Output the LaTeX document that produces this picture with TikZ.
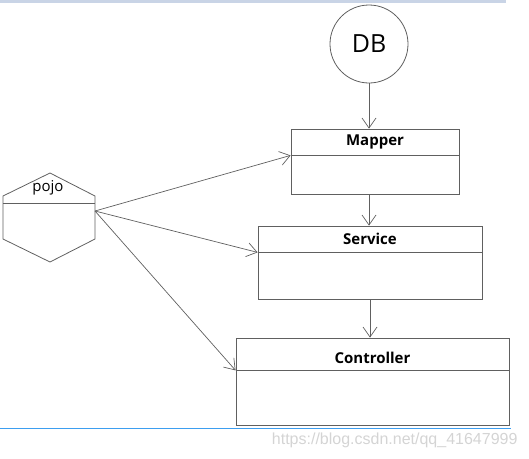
\documentclass[tikz,border=0pt]{standalone}
\usepackage{fontspec}
\setmainfont{Open Sans}
\newfontfamily\markfont{Liberation Sans}
\usepackage{tikz}
\usetikzlibrary{positioning,arrows.meta}
\definecolor{edge}{HTML}{606060}
\definecolor{band}{HTML}{c9d4e6}
\definecolor{rule}{HTML}{3d9ef0}
\definecolor{mark}{HTML}{d4d4d4}

\begin{document}
\begin{tikzpicture}[x=1pt, y=-1pt,
  head/.style={draw=edge, line width=0.8pt, fill=white, inner sep=0pt, font=\fontsize{15}{18}\selectfont\bfseries},
  body/.style={draw=edge, line width=0.8pt, fill=white, inner sep=0pt},
  arrow/.style={-{Straight Barb[length=10pt, width=14pt]}, line width=0.7pt, color=edge},
]
\useasboundingbox (0,0) rectangle (529,458);
\fill[band] (0,0) rectangle (506,3);

\node[draw=edge, line width=0.8pt, circle, minimum size=78pt, inner sep=0pt, font=\fontsize{25}{30}\selectfont] (db) at (369,44) {DB};

\node[head, minimum width=168pt, minimum height=26pt] (mapper) at (375,142) {Mapper};
\node[body, minimum width=168pt, minimum height=39pt, below=0pt of mapper] (mapperbody) {};
\node[head, minimum width=224pt, minimum height=26pt] (service) at (370,239) {Service};
\node[body, minimum width=224pt, minimum height=47pt, below=0pt of service] (servicebody) {};
\node[head, minimum width=273pt, minimum height=32pt, text height=21pt, text depth=2pt] (controller) at (372.5,354) {Controller};
\node[body, minimum width=273pt, minimum height=55pt, below=0pt of controller] (controllerbody) {};

% pojo hexagon
\draw[edge, line width=0.8pt] (50,173) -- (95,196) -- (95,239) -- (50,262) -- (3,239) -- (3,196) -- cycle;
\draw[edge, line width=0.8pt] (3,203) -- (95,203);
\node[font=\fontsize{15}{18}\selectfont] (pojo) at (48,188) {pojo};
\coordinate (pojoout) at (95,211);

\draw[arrow] (db.south) -- (db.south |- mapper.north);
\draw[arrow] (mapperbody.south -| db.south) -- (service.north -| db.south);
\draw[arrow] (servicebody.south) -- (servicebody.south |- controller.north);
\draw[arrow] (pojoout) -- (mapper.south west);
\draw[arrow] (pojoout) -- (service.south west);
\draw[arrow] (pojoout) -- (controller.south west);

\draw[rule, line width=1pt] (0,428) -- (511,428);
\node[color=mark, font=\markfont\fontsize{16}{18}\selectfont, anchor=east] (wmark) at (521,440) {https://blog.csdn.net/qq\_41647999};
\end{tikzpicture}
\end{document}
